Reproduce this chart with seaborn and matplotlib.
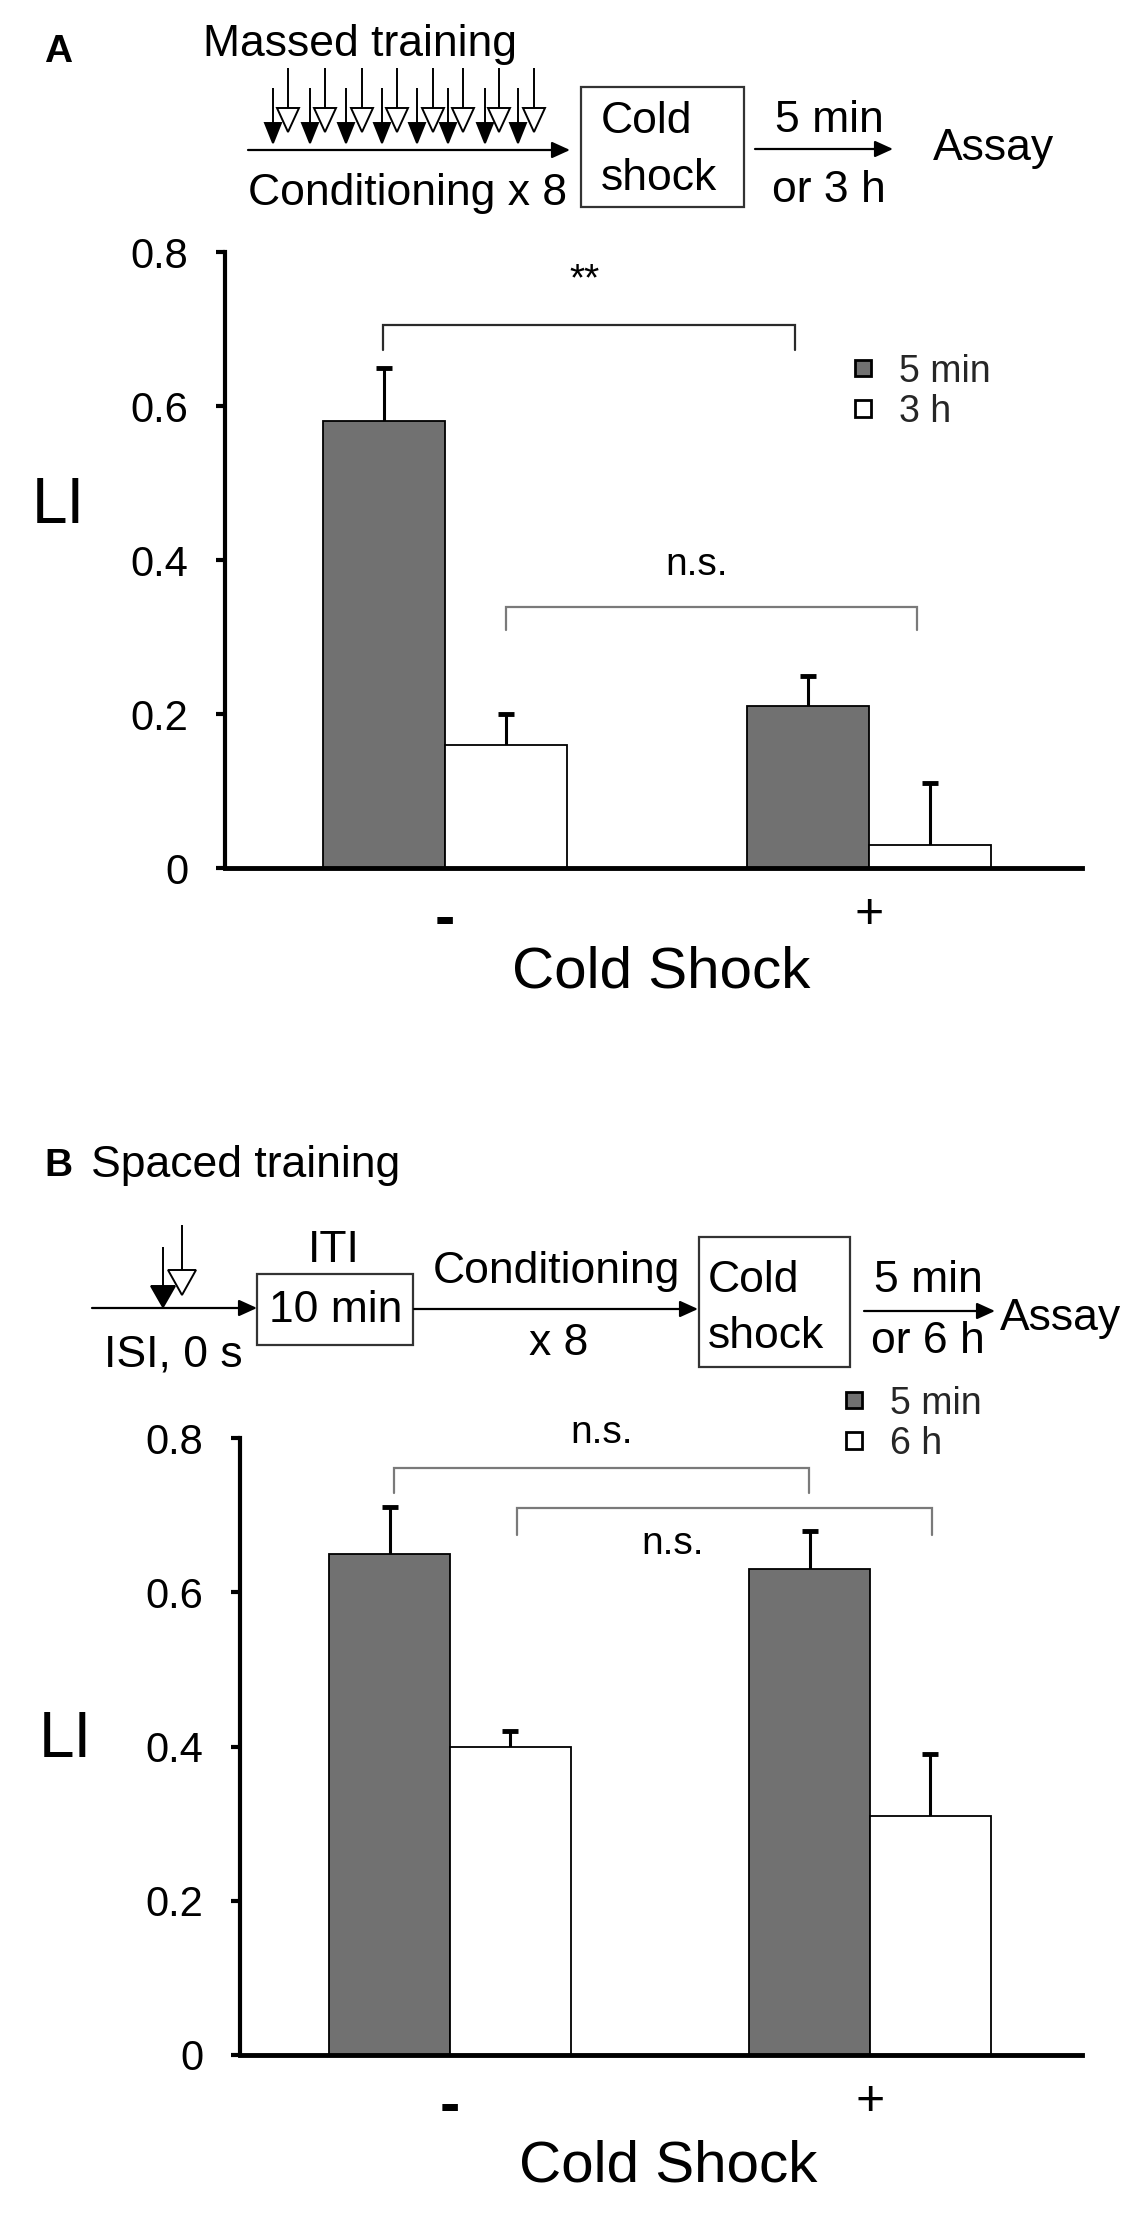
import numpy as np
import pandas as pd
import matplotlib
matplotlib.use("Agg")
import matplotlib.pyplot as plt
import seaborn as sns
from matplotlib.patches import Polygon, Rectangle

# ---------------- data ----------------
cold_shock = ["-", "+"]

delays_A = ["5 min", "3 h"]
li_A_5min = [0.58, 0.21]
li_A_3h = [0.16, 0.03]
err_A_5min = [0.07, 0.04]
err_A_3h = [0.04, 0.08]

delays_B = ["5 min", "6 h"]
li_B_5min = [0.65, 0.63]
li_B_6h = [0.40, 0.31]
err_B_5min = [0.06, 0.05]
err_B_6h = [0.02, 0.08]

y_ticks = [0, 0.2, 0.4, 0.6, 0.8]
y_ticklabels = ["0", "0.2", "0.4", "0.6", "0.8"]

GRAY = "#717171"


def long_df(delays, v1, v2):
    rows = []
    for d, vals in zip(delays, [v1, v2]):
        for c, v in zip(cold_shock, vals):
            rows.append({"Cold Shock": c, "Delay": d, "LI": v})
    return pd.DataFrame(rows)


df_A = long_df(delays_A, li_A_5min, li_A_3h)
df_B = long_df(delays_B, li_B_5min, li_B_6h)

# ---------------- figure ----------------
sns.set_theme(style="ticks")
plt.rcParams["font.family"] = ["Liberation Sans", "DejaVu Sans"]

W, H = 1133, 2219
fig = plt.figure(figsize=(W / 100, H / 100), dpi=100)


def px_axes(left, right, top, bottom):
    return fig.add_axes([left / W, 1 - bottom / H, (right - left) / W, (bottom - top) / H])


axA = px_axes(225, 1082, 252, 868)
axB = px_axes(240, 1082, 1438, 2055)


def draw_panel(ax, df, hue_order, errs, xlim, xlab_xy, ylab_xy, leg_xy):
    sns.barplot(data=df, x="Cold Shock", y="LI", hue="Delay", order=cold_shock,
                hue_order=hue_order, palette=[GRAY, "white"], width=0.575,
                edgecolor="black", linewidth=1.3, errorbar=None, saturation=1,
                ax=ax, zorder=2)
    for cont, err in zip(ax.containers, errs):
        xs = [p.get_x() + p.get_width() / 2 for p in cont.patches]
        ys = [p.get_height() for p in cont.patches]
        ax.errorbar(xs, ys, yerr=err, fmt="none", ecolor="black", elinewidth=2.2,
                    capsize=6, capthick=3.5, zorder=1)
    ax.set_xlim(*xlim)
    ax.set_ylim(0, 0.8)
    ax.set_yticks(y_ticks)
    ax.set_yticklabels(y_ticklabels)
    ax.set_xticks([0, 1])
    labs = ax.set_xticklabels(cold_shock)
    sns.despine(ax=ax)
    ax.spines["left"].set_linewidth(3)
    ax.spines["bottom"].set_linewidth(3.5)
    ax.spines["left"].set_color("black")
    ax.spines["bottom"].set_color("black")
    ax.tick_params(axis="y", length=6.5, width=3, pad=20, labelsize=30,
                   direction="out", left=True, color="black", labelcolor="black")
    ax.tick_params(axis="x", length=0, pad=17, labelcolor="black")
    labs[0].set_fontweight("bold")
    labs[0].set_fontsize(44)
    labs[1].set_fontsize(36)

    ax.set_xlabel("Cold Shock", fontsize=42, color="black")
    ax.xaxis.set_label_coords(*xlab_xy)
    ax.xaxis.label.set_va("center")
    ax.set_ylabel("LI", fontsize=46, rotation=0, color="black")
    ax.yaxis.set_label_coords(*ylab_xy)
    ax.yaxis.label.set_va("center")
    ax.yaxis.label.set_ha("center")

    leg = ax.get_legend()
    handles = leg.legend_handles
    labels = [t.get_text() for t in leg.get_texts()]
    ax.legend(handles, labels, loc="upper left", bbox_to_anchor=leg_xy,
              frameon=False, fontsize=27, handlelength=0.42, handleheight=0.3,
              handletextpad=0.75, labelspacing=0.12, borderpad=0, borderaxespad=0)
    for h in ax.get_legend().legend_handles:
        h.set_edgecolor("black")
        h.set_linewidth(2)


def bracket(ax, x0, x1, ytop, yd0, yd1, color):
    ax.plot([x0, x0, x1, x1], [yd0, ytop, ytop, yd1], color=color, lw=1.6,
            clip_on=False, solid_joinstyle="miter", zorder=3)


draw_panel(axA, df_A, delays_A, [err_A_5min, err_A_3h], (-0.519, 1.502),
           (0.509, -0.169), (-0.195, 0.588), (0.735, 0.835))
bracket(axA, -0.146, 0.825, 0.705, 0.673, 0.673, "#2a2a2a")
axA.text(0.33, 0.75, "**", ha="center", va="baseline", fontsize=28, color="black")
bracket(axA, 0.144, 1.113, 0.339, 0.309, 0.309, "#7a7a7a")
axA.text(0.594, 0.381, "n.s.", ha="center", va="baseline", fontsize=28, color="black")

draw_panel(axB, df_B, delays_B, [err_B_5min, err_B_6h], (-0.5, 1.505),
           (0.508, -0.1815), (-0.208, 0.51), (0.72, 1.085))
bracket(axB, -0.134, 0.854, 0.761, 0.729, 0.729, "#7a7a7a")
axB.text(0.36, 0.794, "n.s.", ha="center", va="baseline", fontsize=28, color="black")
bracket(axB, 0.16, 1.148, 0.709, 0.674, 0.674, "#7a7a7a")
axB.text(0.53, 0.649, "n.s.", ha="center", va="baseline", fontsize=28, color="black")

# ---------------- schematic overlay (pixel coordinates) ----------------
ov = fig.add_axes([0, 0, 1, 1])
ov.set_xlim(0, W)
ov.set_ylim(H, 0)
ov.axis("off")
ov.patch.set_alpha(0)

FS = 32


def htext(x, y, s, ha="center", **kw):
    ov.text(x, y, s, fontsize=kw.pop("fontsize", FS), ha=ha, va="baseline",
            color="black", **kw)


def harrow(x0, x1, y):
    ov.annotate("", xy=(x1, y), xytext=(x0, y),
                arrowprops=dict(arrowstyle="-|>,head_length=0.55,head_width=0.25",
                                color="black", lw=1.6, mutation_scale=20,
                                shrinkA=0, shrinkB=0))


def varrow(x, ytop, ytri, ytip, half_w, filled):
    ov.plot([x, x], [ytop, ytri], color="black", lw=1.4, solid_capstyle="butt")
    tri = Polygon([[x - half_w, ytri], [x + half_w, ytri], [x, ytip]], closed=True,
                  facecolor="black" if filled else "white", edgecolor="black", lw=1.4)
    ov.add_patch(tri)


def box(x0, x1, y0, y1):
    ov.add_patch(Rectangle((x0, y0), x1 - x0, y1 - y0, facecolor="none",
                           edgecolor="#333333", lw=1.6))


# Panel A schematic
htext(44, 62, "A", ha="left", fontsize=28, fontweight="bold")
htext(360, 56, "Massed training")
for xf, xo in zip([273, 310, 346, 382, 417, 448, 485, 518],
                  [288, 325, 362, 397, 433, 463, 499, 534]):
    varrow(xf, 88, 123, 143, 8, True)
    varrow(xo, 68, 108, 132, 11, False)
harrow(248, 570, 150)
htext(407, 205, "Conditioning x 8")
box(581, 744, 87, 207)
htext(601, 133, "Cold", ha="left")
htext(601, 190, "shock", ha="left")
harrow(755, 893, 149)
htext(829, 132, "5 min")
htext(829, 202, "or 3 h")
htext(933, 160, "Assay", ha="left")

# Panel B schematic
htext(44, 1176, "B", ha="left", fontsize=28, fontweight="bold")
htext(91, 1177, "Spaced training", ha="left")
varrow(163, 1247, 1286, 1307, 12, True)
varrow(182, 1225, 1270, 1295, 14, False)
harrow(92, 257, 1308)
box(257, 413, 1274, 1345)
htext(334, 1262, "ITI")
htext(336, 1322, "10 min")
htext(173, 1367, "ISI, 0 s")
harrow(414, 698, 1309)
htext(556, 1283, "Conditioning")
htext(559, 1355, "x 8")
box(699, 850, 1237, 1367)
htext(708, 1292, "Cold", ha="left")
htext(708, 1348, "shock", ha="left")
harrow(864, 995, 1311)
htext(928, 1292, "5 min")
htext(928, 1353, "or 6 h")
htext(1000, 1330, "Assay", ha="left")

fig.savefig("out.png", dpi=100)
